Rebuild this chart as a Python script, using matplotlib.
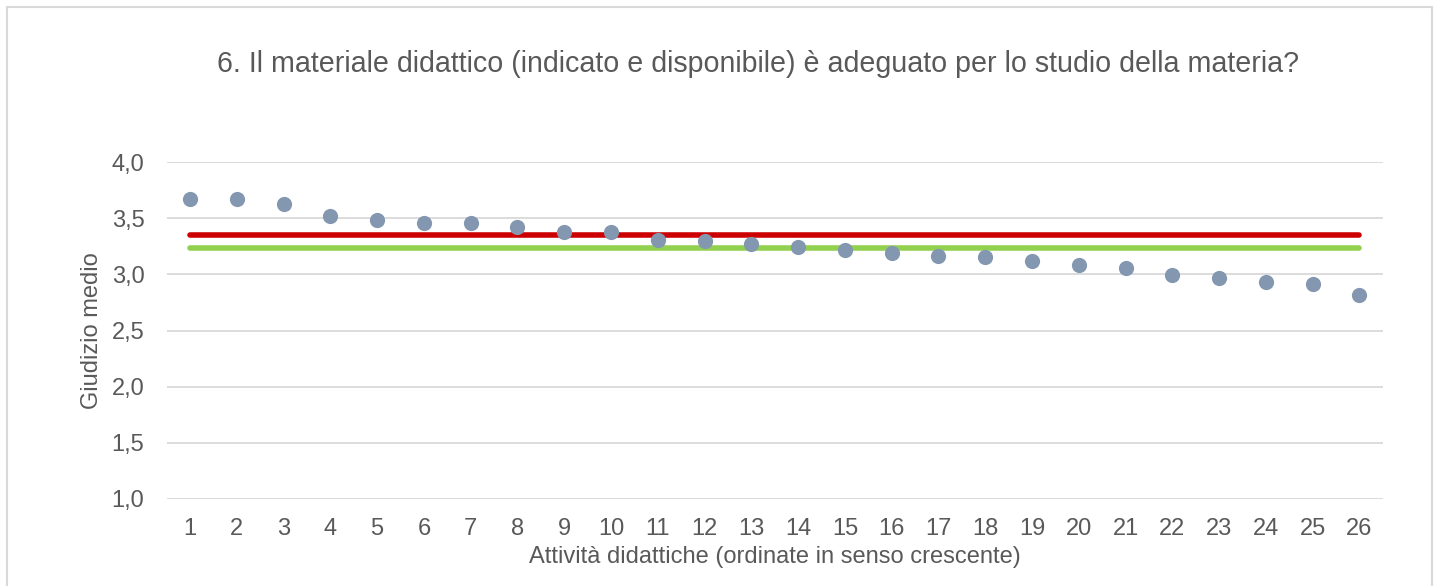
import matplotlib.pyplot as plt
import matplotlib.patches as patches
from matplotlib.ticker import FuncFormatter

plt.rcParams['font.family'] = ['Liberation Sans', 'DejaVu Sans']

# Attività didattiche ordinate
attivita = list(range(1, 27))
giudizio = [3.67, 3.67, 3.63, 3.52, 3.48, 3.46, 3.46, 3.42, 3.38, 3.38,
            3.31, 3.30, 3.27, 3.24, 3.22, 3.19, 3.16, 3.15, 3.12, 3.08,
            3.06, 2.99, 2.97, 2.93, 2.91, 2.82]
media_rossa = 3.35
media_verde = 3.235

grigio = '#595959'

fig = plt.figure(figsize=(14.39, 5.86), dpi=100)
ax = fig.add_axes([0.1158, 0.1485, 0.8452, 0.575])

ax.plot([attivita[0], attivita[-1]], [media_rossa, media_rossa], color='#CC0000', lw=4, solid_capstyle='round', zorder=2)
ax.plot([attivita[0], attivita[-1]], [media_verde, media_verde], color='#92D050', lw=4, solid_capstyle='round', zorder=2)
ax.scatter(attivita, giudizio, s=120, color='#8497B0', zorder=3, linewidths=0)

ax.set_xlim(0.5, 26.5)
ax.set_ylim(1.0, 4.0)
ax.set_xticks(attivita)
ax.set_yticks([1.0, 1.5, 2.0, 2.5, 3.0, 3.5, 4.0])
ax.yaxis.set_major_formatter(FuncFormatter(lambda v, p: f'{v:.1f}'.replace('.', ',')))
ax.grid(axis='y', color='#D9D9D9', lw=1.3)
ax.set_axisbelow(True)
for s in ax.spines.values():
    s.set_visible(False)
ax.tick_params(length=0, labelsize=17, colors=grigio)
ax.tick_params(axis='x', pad=14)
ax.tick_params(axis='y', pad=16)

ax.set_xlabel('Attività didattiche (ordinate in senso crescente)', fontsize=17, color=grigio, va='center')
ax.xaxis.set_label_coords(0.5, -0.172)
ax.set_ylabel('Giudizio medio', fontsize=17, color=grigio, va='center')
ax.yaxis.set_label_coords(-0.0614, 0.5)
fig.text(0.527, 1 - 64 / 586, '6. Il materiale didattico (indicato e disponibile) è adeguato per lo studio della materia?',
         ha='center', va='center', fontsize=20.6, color=grigio)

fig.patches.append(patches.Rectangle((7 / 1439, -0.01), 1425 / 1439, 1 - 7 / 586 + 0.01,
                                     transform=fig.transFigure, fill=False, edgecolor='#D9D9D9', lw=1.5))

fig.savefig('out.png', dpi=100, facecolor='white')
